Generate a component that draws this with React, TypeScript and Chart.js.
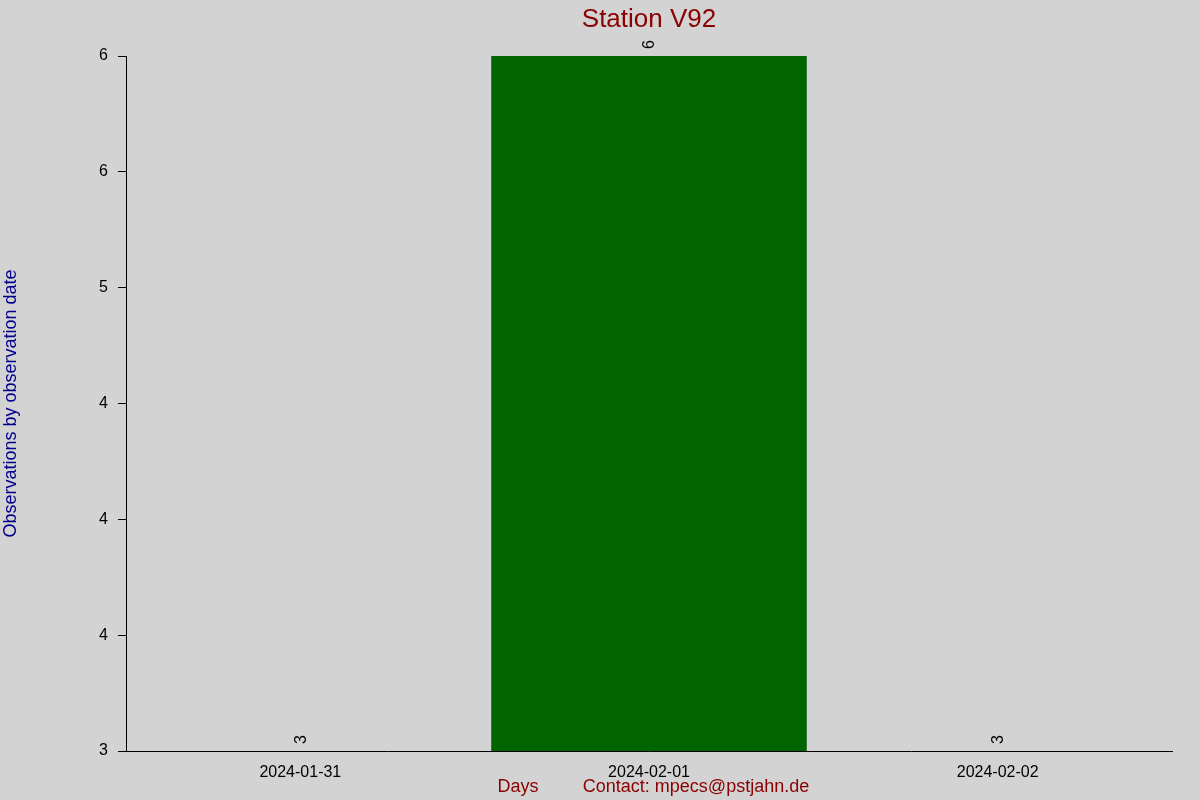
import React, { useEffect, useRef } from "react";
import { Chart, registerables } from "chart.js";

Chart.register(...registerables);

const days = ["2024-01-31", "2024-02-01", "2024-02-02"];
const observations = [3, 6, 3];
const yTickLabels = ["3", "4", "4", "4", "5", "6", "6"];

const chartTitle = "Station V92";
const xTitle = "Days";
const contactText = "Contact: mpecs@pstjahn.de";
const yTitle = "Observations by observation date";

const FONT = "'Liberation Sans', Arial, sans-serif";

const backdrop = {
    id: "backdrop",
    beforeDraw(chart: any) {
        const { ctx, width, height } = chart;
        ctx.save();
        ctx.fillStyle = "#d3d3d3";
        ctx.fillRect(0, 0, width, height);
        ctx.restore();
    },
};

const annotations = {
    id: "annotations",
    afterDraw(chart: any) {
        const { ctx, chartArea } = chart;
        ctx.save();

        // title over the plot area
        ctx.fillStyle = "#8b0000";
        ctx.font = `26px ${FONT}`;
        ctx.textAlign = "center";
        ctx.textBaseline = "alphabetic";
        ctx.fillText(chartTitle, (chartArea.left + chartArea.right) / 2, 27);

        // bottom line: axis name and contact
        ctx.font = `18px ${FONT}`;
        ctx.fillText(xTitle, 518, 792);
        ctx.fillText(contactText, 696, 792);

        // rotated value labels above each bar
        const meta = chart.getDatasetMeta(0);
        ctx.fillStyle = "#000000";
        ctx.font = `16px ${FONT}`;
        ctx.textAlign = "left";
        ctx.textBaseline = "middle";
        meta.data.forEach((bar: any, i: number) => {
            ctx.save();
            ctx.translate(bar.x + 1, bar.y - 7);
            ctx.rotate(-Math.PI / 2);
            ctx.fillText(String(observations[i]), 0, 0);
            ctx.restore();
        });

        ctx.restore();
    },
};

const App: React.FC = () => {
    const chartRef = useRef<HTMLCanvasElement | null>(null);

    useEffect(() => {
        document.body.style.margin = "0";
        if (!chartRef.current) return;
        const ctx = chartRef.current.getContext("2d");
        if (!ctx) return;

        const chart = new Chart(ctx, {
            type: "bar",
            data: {
                labels: days,
                datasets: [
                    {
                        label: "Observations",
                        data: observations,
                        backgroundColor: "#006400",
                        borderWidth: 0,
                        barPercentage: 0.905,
                        categoryPercentage: 1.0,
                    },
                ],
            },
            options: {
                animation: false,
                responsive: true,
                maintainAspectRatio: false,
                layout: { padding: { top: 56, right: 28, bottom: 0, left: 0 } },
                plugins: {
                    legend: { display: false },
                    title: { display: false },
                    tooltip: { enabled: false },
                },
                scales: {
                    x: {
                        type: "category",
                        offset: true,
                        grid: { display: false },
                        border: { display: true, color: "#000000", width: 1 },
                        ticks: {
                            color: "#000000",
                            font: { family: FONT, size: 16 },
                            padding: 4,
                            maxRotation: 0,
                        },
                        afterFit: (scale: any) => {
                            scale.height = 49;
                        },
                    },
                    y: {
                        min: 3,
                        max: 6,
                        grid: {
                            drawOnChartArea: false,
                            drawTicks: true,
                            tickLength: 8,
                            color: "#000000",
                        },
                        border: { display: true, color: "#000000", width: 1 },
                        ticks: {
                            stepSize: 0.5,
                            color: "#000000",
                            font: { family: FONT, size: 16 },
                            padding: 10,
                            callback: (_v: any, i: number) => yTickLabels[i],
                        },
                        title: {
                            display: true,
                            text: yTitle,
                            color: "#00008b",
                            font: { family: FONT, size: 18 },
                            padding: 0,
                        },
                        afterFit: (scale: any) => {
                            scale.width = 126;
                        },
                    },
                },
            },
            plugins: [backdrop, annotations],
        });

        return () => {
            chart.destroy();
        };
    }, []);

    return (
        <div style={{ width: 1200, height: 800, position: "relative" }}>
            <canvas ref={chartRef}></canvas>
        </div>
    );
};

export default App;
